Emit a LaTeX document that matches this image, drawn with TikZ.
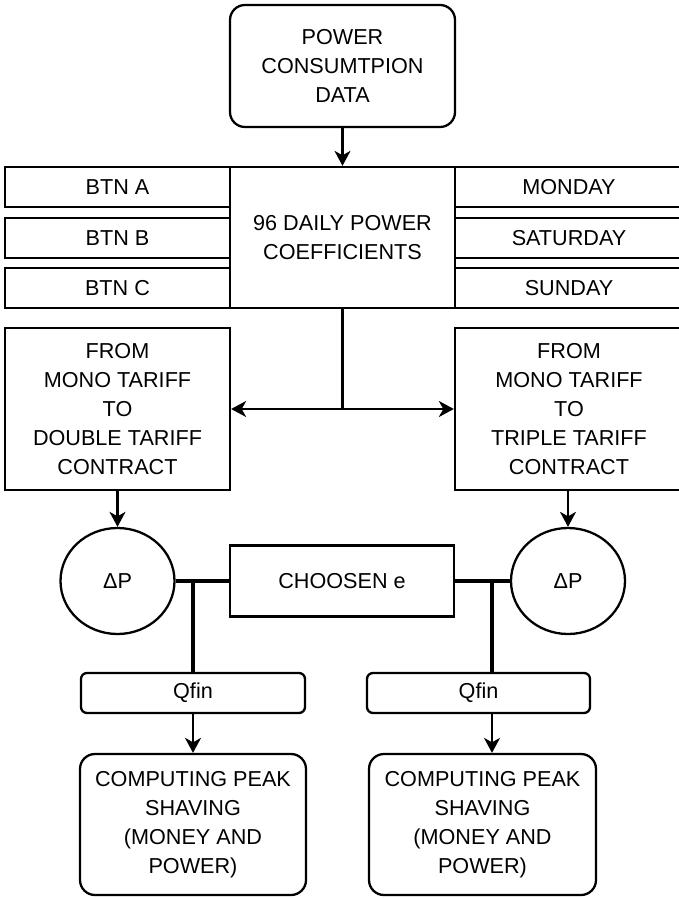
\documentclass[tikz,border=0pt]{standalone}
\usepackage{fontspec}
\setmainfont{Liberation Sans}
\usepackage{tikz}
\usetikzlibrary{arrows.meta,positioning,calc,shapes.geometric}
\tikzset{
  block/.style={draw, rectangle, minimum width=45mm, minimum height=8mm,
                align=center, inner sep=1pt, line width=1.3pt,
                font=\fontsize{12.3}{16.5}\selectfont},
  roundblock/.style={block, rounded corners=3mm},
  smallblock/.style={block, rounded corners=1.2mm},
  deltanode/.style={block, ellipse, minimum width=22.8mm, minimum height=21.2mm},
  arrow/.style={-{Stealth[length=3mm, width=3.2mm, inset=0.9mm]}, line width=1.3pt},
  thickedge/.style={line width=2.3pt},
}

\begin{document}
\begin{tikzpicture}
\useasboundingbox (0,0) rectangle (13.56,-17.96);

% ---------------- input data ----------------
\node[roundblock, minimum height=24.4mm] (data) at (6.85,-1.32)
  {POWER\\CONSUMTPION\\DATA};
\node[block, minimum height=28.2mm] (coef) at (6.85,-4.75)
  {96 DAILY POWER\\COEFFICIENTS};

% ---------------- tariff groups and day types ----------------
\foreach \i/\y/\btn/\day in {1/-3.74/BTN A/MONDAY, 2/-4.76/BTN B/SATURDAY,
                            3/-5.76/BTN C/SUNDAY} {
  \node[block] (B\i) at (2.35,\y) {\btn};
  \node[block, minimum width=45.6mm] (D\i) at (11.38,\y) {\day};
}

\draw[arrow] (data.south) -- (coef.north);

% ---------------- contract changes ----------------
\node[block, minimum height=32.4mm] (tarL) at (2.35,-8.18)
  {FROM\\MONO TARIFF\\TO\\DOUBLE TARIFF\\CONTRACT};
\node[block, minimum width=45.6mm, minimum height=32.4mm] (tarR) at (11.38,-8.18)
  {FROM\\MONO TARIFF\\TO\\TRIPLE TARIFF\\CONTRACT};

\coordinate (split) at (coef.south |- tarL.east);
\draw[line width=1.3pt] (coef.south) -- (split);
\draw[arrow] (split) -- (tarL.east);
\draw[arrow] (split) -- (tarR.west);

% ---------------- power difference and chosen e ----------------
\node[deltanode] (dpL) at (2.35,-11.62) {ΔP};
\node[deltanode] (dpR) at (11.36,-11.62) {ΔP};
\node[block, minimum width=44.8mm, minimum height=14.2mm] (chosen) at (6.84,-11.62)
  {CHOOSEN e};

\draw[arrow] (tarL.south) -- (dpL.north);
\draw[arrow] (dpR.north |- tarR.south) -- (dpR.north);
\draw[thickedge] (dpL.east) -- (chosen.west);
\draw[thickedge] (chosen.east) -- (dpR.west);

% ---------------- Qfin and peak shaving ----------------
\node[smallblock, minimum width=44.8mm] (qL) at (3.86,-13.86) {Qfin};
\node[smallblock, minimum width=44.6mm] (qR) at (9.57,-13.86) {Qfin};
\node[roundblock, minimum width=45.2mm, minimum height=28.2mm] (peakL) at (3.86,-16.49)
  {COMPUTING PEAK\\SHAVING\\(MONEY AND\\POWER)};
\node[roundblock, minimum width=45.4mm, minimum height=28.2mm] (peakR) at (9.65,-16.49)
  {COMPUTING PEAK\\SHAVING\\(MONEY AND\\POWER)};

% the right branch drops off-centre, as in the drawing
\coordinate (jR) at (9.84,-11.62);
\draw[thickedge] (qL.north |- dpL.east) -- (qL.north);
\draw[thickedge] (jR) -- (jR |- qR.north);
\draw[arrow] (qL.south) -- (qL.south |- peakL.north);
\draw[arrow] (jR |- qR.south) -- (jR |- peakR.north);
\end{tikzpicture}
\end{document}
